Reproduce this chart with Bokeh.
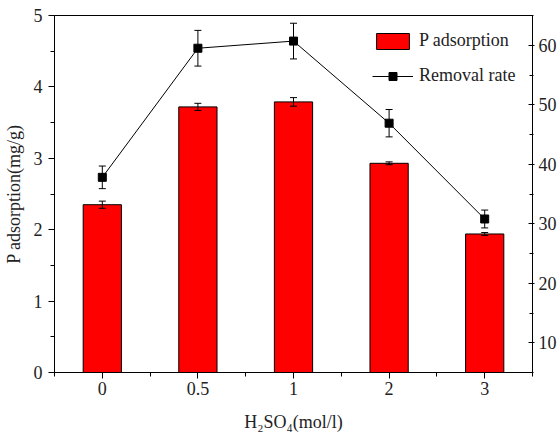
from bokeh.plotting import figure
from bokeh.models import (Range1d, LinearAxis, FixedTicker, Whisker, ColumnDataSource,
                          Legend, LegendItem, TeeHead)
from bokeh.embed import file_html
from bokeh.resources import INLINE

categories = ["0", "0.5", "1", "2", "3"]
p_adsorption = [2.35, 3.72, 3.79, 2.93, 1.94]
p_err = [0.05, 0.05, 0.06, 0.02, 0.02]
removal_rate = [37.8, 59.5, 60.7, 46.9, 30.8]
removal_err = [1.9, 3.0, 3.0, 2.3, 1.5]

FONT = "Liberation Serif"
xs = list(range(len(categories)))

src = ColumnDataSource(dict(
    x=xs, p=p_adsorption,
    p_lo=[v - e for v, e in zip(p_adsorption, p_err)],
    p_hi=[v + e for v, e in zip(p_adsorption, p_err)],
    r=removal_rate,
    r_lo=[v - e for v, e in zip(removal_rate, removal_err)],
    r_hi=[v + e for v, e in zip(removal_rate, removal_err)],
))

p = figure(frame_width=478, frame_height=357, output_backend="svg", toolbar_location=None,
           x_range=Range1d(-0.5, len(categories) - 0.5), y_range=Range1d(0, 5),
           min_border_left=54, min_border_top=15, min_border_bottom=55, min_border_right=20)
p.extra_y_ranges = {"right": Range1d(5, 65)}
p.grid.visible = False
p.outline_line_color = "black"
p.outline_line_width = 1
p.background_fill_color = "white"
p.border_fill_color = "white"

bars = p.vbar(x="x", top="p", width=0.4, source=src, fill_color="#ff0000",
              line_color="black", line_width=1)
p.add_layout(Whisker(base="x", upper="p_hi", lower="p_lo", source=src, line_color="black",
                     line_width=1, level="glyph",
                     upper_head=TeeHead(size=7, line_color="black", line_width=1),
                     lower_head=TeeHead(size=7, line_color="black", line_width=1)))

ln = p.line(x="x", y="r", source=src, y_range_name="right", line_color="black", line_width=1)
p.add_layout(Whisker(base="x", upper="r_hi", lower="r_lo", source=src, y_range_name="right",
                     line_color="black", line_width=1, level="overlay",
                     upper_head=TeeHead(size=7, line_color="black", line_width=1),
                     lower_head=TeeHead(size=7, line_color="black", line_width=1)))
sq = p.scatter(x="x", y="r", source=src, y_range_name="right", marker="square", size=8,
               fill_color="black", line_color="black")

# x axis
xa = p.xaxis[0]
xa.ticker = FixedTicker(ticks=xs, minor_ticks=[i + 0.5 for i in range(-1, len(categories))])
xa.major_label_overrides = {i: c for i, c in enumerate(categories)}
xa.axis_label = "H₂SO₄(mol/l)"

# left axis
ya = p.yaxis[0]
ya.ticker = FixedTicker(ticks=[0, 1, 2, 3, 4, 5], minor_ticks=[0.5, 1.5, 2.5, 3.5, 4.5])
ya.axis_label = "P adsorption(mg/g)"

# right axis
ra = LinearAxis(y_range_name="right",
                ticker=FixedTicker(ticks=[10, 20, 30, 40, 50, 60],
                                   minor_ticks=[5, 15, 25, 35, 45, 55, 65]))
p.add_layout(ra, "right")

for ax in (xa, ya, ra):
    ax.axis_line_color = "black"
    ax.axis_line_width = 1
    ax.major_tick_line_color = "black"
    ax.minor_tick_line_color = "black"
    ax.major_label_text_font = FONT
    ax.major_label_text_font_size = "18px"
    ax.major_label_text_color = "#222222"
    ax.axis_label_text_font = FONT
    ax.axis_label_text_font_size = "18px"
    ax.axis_label_text_font_style = "normal"
    ax.axis_label_text_color = "#222222"

for ax in (xa, ya):
    ax.major_tick_out = 6
    ax.major_tick_in = 0
    ax.minor_tick_out = 4
    ax.minor_tick_in = 0
xa.major_label_standoff = 3
xa.axis_label_standoff = 14
ya.major_label_standoff = 6
ya.axis_label_standoff = 7

ra.major_tick_in = 4
ra.major_tick_out = 2
ra.minor_tick_in = 3
ra.minor_tick_out = 1
ra.major_label_standoff = 4

legend = Legend(items=[LegendItem(label="P adsorption", renderers=[bars]),
                       LegendItem(label="Removal rate", renderers=[ln, sq])],
                location=(318, 286), padding=0, margin=0, spacing=14,
                glyph_width=41, glyph_height=20, label_height=20, label_standoff=6,
                label_text_font=FONT, label_text_font_size="18px",
                label_text_color="#222222",
                border_line_color=None, background_fill_alpha=0)
p.add_layout(legend, "center")

open("out.html", "w").write(file_html(p, INLINE))
